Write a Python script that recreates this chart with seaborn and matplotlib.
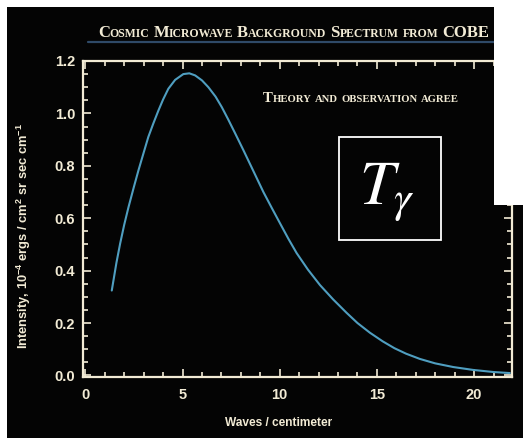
import matplotlib
matplotlib.use("Agg")
import matplotlib.pyplot as plt
from matplotlib.patches import Rectangle
from matplotlib.lines import Line2D
from matplotlib.ticker import MultipleLocator, FormatStrFormatter
import seaborn as sns
import pandas as pd

# ---- data ----
wavenumber = [1.36, 1.6, 1.79, 2.0, 2.22, 2.5, 2.73, 3.0, 3.24, 3.5, 3.76, 4.0, 4.27,
              4.62, 5.04, 5.35, 5.65, 6.0, 6.33, 6.7, 7.02, 7.35, 7.70, 8.13, 8.6,
              9.16, 9.6, 10.02, 10.45, 10.87, 11.45, 12.07, 12.75, 13.44, 14.0, 14.64,
              15.3, 15.9, 16.5, 17.21, 18.0, 18.93, 19.95, 21.0, 21.84]
intensity = [0.324, 0.43, 0.503, 0.575, 0.642, 0.72, 0.782, 0.85, 0.910, 0.962, 1.011,
             1.053, 1.094, 1.128, 1.150, 1.153, 1.145, 1.126, 1.100, 1.064, 1.024, 0.977,
             0.925, 0.860, 0.787, 0.700, 0.638, 0.580, 0.521, 0.467, 0.404, 0.345, 0.290,
             0.239, 0.200, 0.163, 0.130, 0.104, 0.083, 0.063, 0.046, 0.032, 0.021,
             0.013, 0.009]
title_text = "Cosmic Microwave Background Spectrum from COBE"
note_text = "Theory and observation agree"
xlabel_text = "Waves / centimeter"
ylabel_text = r"Intensity, $\mathbf{10^{-4}}$ ergs / cm$^{\mathbf{2}}$ sr sec cm$^{\mathbf{-1}}$"
box_text = r"$T_{\gamma}$"

W, H = 523, 438
CREAM = "#f2ebd5"
CURVE = "#4f9ec0"
BG = "#040404"

sns.set_style("dark")
plt.rcParams["font.family"] = ["Liberation Sans", "DejaVu Sans"]
plt.rcParams["mathtext.fontset"] = "custom"
plt.rcParams["mathtext.bf"] = "Liberation Sans:bold"
plt.rcParams["mathtext.rm"] = "Liberation Sans:bold"

fig = plt.figure(figsize=(W / 100, H / 100), dpi=100, facecolor=BG)

def fx(px):
    return px / W

def fy(py):
    return 1 - py / H

ax = fig.add_axes([fx(83), fy(377), (512 - 83) / W, (377 - 61) / H])
ax.set_facecolor(BG)

df = pd.DataFrame({"x": wavenumber, "y": intensity})
sns.lineplot(data=df, x="x", y="y", ax=ax, color=CURVE, linewidth=1.5, sort=False)

ax.set_xlim(-0.12, 21.95)
ax.set_ylim(-0.006, 1.2)
ax.xaxis.set_major_locator(MultipleLocator(5))
ax.xaxis.set_minor_locator(MultipleLocator(1))
ax.yaxis.set_major_locator(MultipleLocator(0.2))
ax.yaxis.set_minor_locator(MultipleLocator(0.05))
ax.yaxis.set_major_formatter(FormatStrFormatter("%.1f"))
ax.grid(False)
for s in ax.spines.values():
    s.set_visible(True)
    s.set_color(CREAM)
    s.set_linewidth(1.6)
ax.tick_params(which="both", direction="in", top=True, right=True, bottom=True, left=True,
               color=CREAM, width=1.2)
ax.tick_params(which="major", length=6.0)
ax.tick_params(which="minor", length=3.6)
ax.tick_params(axis="y", which="major", pad=5.5, labelcolor=CREAM, labelsize=10.5)
ax.tick_params(axis="x", which="major", pad=8, labelcolor=CREAM, labelsize=10.5)
for lab in ax.get_xticklabels() + ax.get_yticklabels():
    lab.set_fontweight("bold")

ax.set_xlabel(xlabel_text, color=CREAM, fontsize=8.6, fontweight="bold")
ax.xaxis.label.set_va("center")
ax.xaxis.set_label_coords((279 - 83) / 429, (377 - 423) / 316)
ax.set_ylabel(ylabel_text, color=CREAM, fontsize=9.3, fontweight="bold")
ax.yaxis.label.set_va("center")
ax.yaxis.set_label_coords((24 - 83) / 429, (377 - 236) / 316)

renderer = fig.canvas.get_renderer()

def smallcaps(text, x0, x1, base_y, big, small, color):
    # split into runs of big / small letters
    runs = []
    for ch in text:
        if ch == " ":
            runs.append((" ", None))
            continue
        size = big if ch.isupper() else small
        c = ch.upper()
        if runs and runs[-1][1] == size:
            runs[-1] = (runs[-1][0] + c, size)
        else:
            runs.append((c, size))
    def layout(scale, draw):
        x = x0
        for s, size in runs:
            if size is None:
                x += small * scale * 0.32 * 100 / 72
                continue
            t = fig.text(fx(x), fy(base_y), s, fontsize=size * scale, color=color,
                         family="Liberation Serif", fontweight="bold", ha="left", va="baseline")
            bb = t.get_window_extent(renderer)
            x += bb.width
            if not draw:
                t.remove()
        return x - x0
    wdt = layout(1.0, False)
    scale = (x1 - x0) / wdt
    layout(scale, True)

smallcaps(title_text, 98, 490, 37, 13.5, 9.5, CREAM)
fig.add_artist(Line2D([fx(88), fx(494)], [fy(42), fy(42)], color="#2f4a68", lw=1.6))
smallcaps(note_text, 263, 457, 102, 9.2, 6.6, CREAM)

# boxed symbol
fig.add_artist(Rectangle((fx(339), fy(240)), (441 - 339) / W, (240 - 137) / H,
                         transform=fig.transFigure, facecolor=BG, edgecolor="white",
                         lw=1.3, zorder=5))
fig.text(fx(387), fy(192), box_text, fontsize=45, color="white", ha="center", va="center",
         math_fontfamily="stix", zorder=6)

# white margins of the screenshot
for (x0, y0, x1, y1) in [(0, 0, 7, H), (0, 0, W, 7), (494, 0, W, 205)]:
    fig.add_artist(Rectangle((fx(x0), fy(y1)), (x1 - x0) / W, (y1 - y0) / H,
                             transform=fig.transFigure, facecolor="white",
                             edgecolor="none", zorder=10))

fig.savefig("out.png", dpi=100, facecolor=fig.get_facecolor())
